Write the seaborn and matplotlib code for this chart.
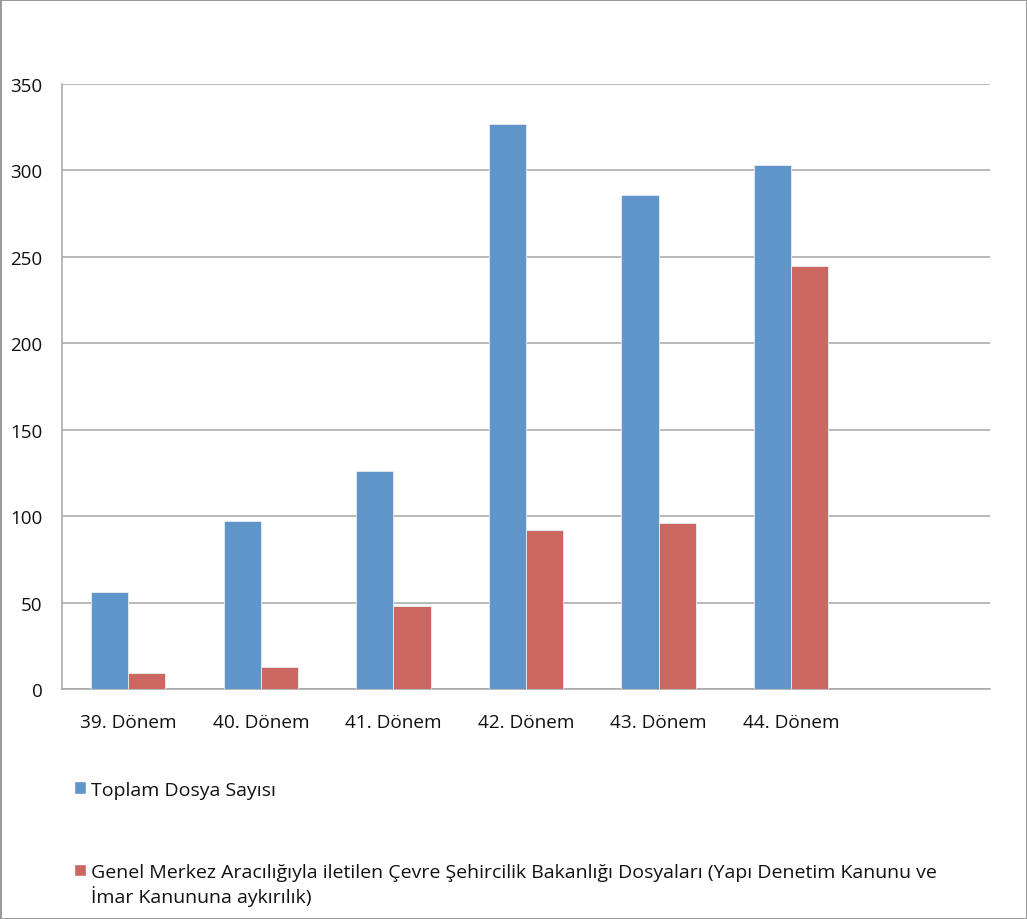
import pandas as pd
import matplotlib.pyplot as plt
import seaborn as sns
from matplotlib.patches import Patch

# Data
donemler = ['39. Dönem', '40. Dönem', '41. Dönem', '42. Dönem', '43. Dönem', '44. Dönem']
toplam = [56, 97, 126, 327, 286, 303]
genel_merkez = [9, 13, 48, 92, 96, 245]
seri_1 = 'Toplam Dosya Sayısı'
seri_2 = ('Genel Merkez Aracılığıyla iletilen Çevre Şehircilik Bakanlığı Dosyaları '
          '(Yapı Denetim Kanunu ve')
seri_2_devam = 'İmar Kanununa aykırılık)'
renkler = ['#6095C9', '#CC6661']

df = pd.DataFrame({
    'Dönem': donemler * 2,
    'Değer': toplam + genel_merkez,
    'Seri': [seri_1] * len(donemler) + [seri_2] * len(donemler),
})

sns.set_style('white')
plt.rcParams['font.family'] = ['Open Sans', 'DejaVu Sans']

fig = plt.figure(figsize=(10.27, 9.2), dpi=100)
fig.patch.set_edgecolor('#9a9a9a')
fig.patch.set_linewidth(2)
ax = fig.add_axes([0.0604, 0.25, 0.9036, 0.6576])

sns.barplot(data=df, x='Dönem', y='Değer', hue='Seri', palette=renkler,
            order=donemler, width=0.56, saturation=1, edgecolor='#e8eef6',
            linewidth=0.6, legend=False, ax=ax, zorder=3)

ax.set_xlim(-0.5, 6.5)
ax.set_ylim(0, 350)
ax.set_yticks(range(0, 351, 50))
ax.yaxis.grid(True, color='#a6a6a6', linewidth=1.1, zorder=0)
ax.set_axisbelow(True)
ax.set_xlabel('')
ax.set_ylabel('')
for s in ['top', 'right']:
    ax.spines[s].set_visible(False)
for s in ['left', 'bottom']:
    ax.spines[s].set_color('#a6a6a6')
    ax.spines[s].set_linewidth(1.1)
ax.tick_params(axis='y', length=0, pad=14, labelsize=13.5, labelcolor='#111111')
ax.tick_params(axis='x', length=0, pad=17, labelsize=13.7, labelcolor='#111111')

# Legend below the plot
handles = [Patch(facecolor=renkler[0]), Patch(facecolor=renkler[1])]
leg = fig.legend(handles, [seri_1, seri_2], loc='upper left',
                 bbox_to_anchor=(0.072, 0.1505), frameon=False, fontsize=14,
                 handlelength=0.62, handleheight=0.62, handletextpad=0.25,
                 labelspacing=3.3, borderaxespad=0, borderpad=0,
                 labelcolor='#111111')
fig.text(0.0886, 0.025, seri_2_devam, fontsize=14, ha='left', va='center',
         color='#111111')

fig.savefig('out.png', dpi=100)
